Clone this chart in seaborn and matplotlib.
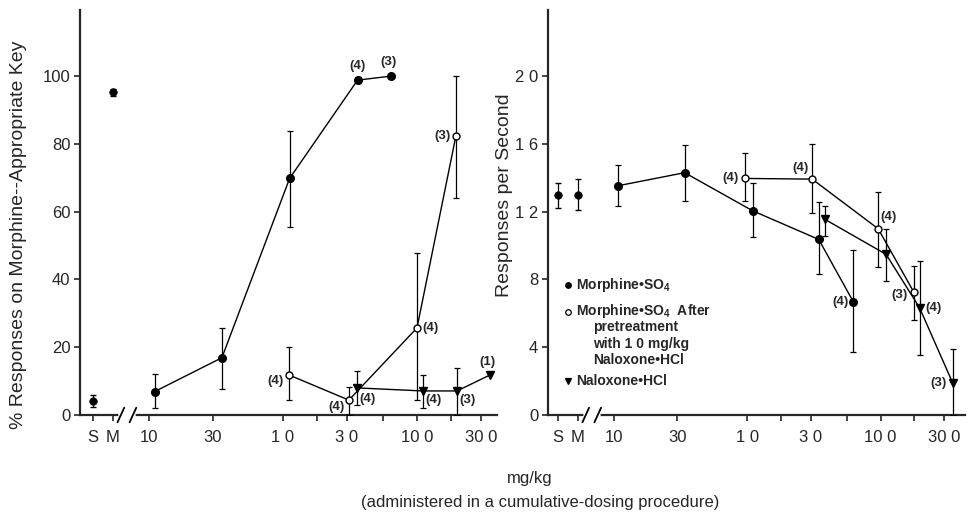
import matplotlib.pyplot as plt
import matplotlib.transforms as mtransforms
import numpy as np
import seaborn as sns

# ---------------------------------------------------------------------------
# Data (doses in mg/kg, cumulative dosing)
# ---------------------------------------------------------------------------

train_labels = ["S", "M"]

# left panel: % responses on morphine-appropriate key
train_pct = [4.2, 95.2]
train_pct_lo = [2.4, 94.2]
train_pct_hi = [6.0, 96.2]

morph_dose_pct = [0.11, 0.35, 1.12, 3.6, 6.4]
morph_pct = [6.9, 16.9, 69.8, 98.8, 100.0]
morph_pct_lo = [2.0, 7.8, 55.5, 98.0, 100.0]
morph_pct_hi = [12.1, 25.7, 83.8, 99.6, 100.0]
morph_n_pct = ["", "", "", "(4)", "(3)"]

pre_dose_pct = [1.11, 3.1, 10.0, 19.5]
pre_pct = [11.8, 4.4, 25.7, 82.3]
pre_pct_lo = [4.4, 0.0, 4.4, 64.0]
pre_pct_hi = [20.0, 8.3, 47.9, 100.0]
pre_n_pct = ["(4)", "(4)", "(4)", "(3)"]

nal_dose_pct = [3.55, 11.0, 19.9, 35.0]
nal_pct = [8.0, 7.1, 7.1, 11.8]
nal_pct_lo = [3.0, 2.0, 0.0, 11.8]
nal_pct_hi = [13.0, 11.8, 13.9, 11.8]
nal_n_pct = ["(4)", "(4)", "(3)", "(1)"]

# right panel: responses per second
train_rate = [1.30, 1.30]
train_rate_lo = [1.22, 1.21]
train_rate_hi = [1.37, 1.39]

morph_dose_rate = [0.108, 0.34, 1.10, 3.44, 6.25]
morph_rate = [1.353, 1.43, 1.205, 1.036, 0.668]
morph_rate_lo = [1.233, 1.264, 1.052, 0.83, 0.373]
morph_rate_hi = [1.477, 1.593, 1.37, 1.258, 0.973]
morph_n_rate = ["", "", "", "", "(4)"]

pre_dose_rate = [0.97, 3.07, 9.6, 17.7]
pre_rate = [1.396, 1.392, 1.099, 0.727]
pre_rate_lo = [1.263, 1.19, 0.875, 0.559]
pre_rate_hi = [1.544, 1.599, 1.317, 0.881]
pre_n_rate = ["(4)", "(4)", "(4)", "(3)"]

nal_dose_rate = [3.84, 11.0, 19.6, 34.7]
nal_rate = [1.154, 0.948, 0.633, 0.19]
nal_rate_lo = [1.056, 0.792, 0.354, 0.0]
nal_rate_hi = [1.233, 1.099, 0.91, 0.389]
nal_n_rate = ["", "", "(4)", "(3)"]

dose_ticks = [0.1, 0.3, 1.0, 3.0, 10.0, 30.0]
dose_ticklabels = ["10", "30", "1 0", "3 0", "10 0", "30 0"]
minor_doses = [1.78, 5.6, 17.8]

pct_ticks = [0, 20, 40, 60, 80, 100]
rate_ticks = [0, 0.4, 0.8, 1.2, 1.6, 2.0]
rate_ticklabels = ["0", "4", "8", "1 2", "1 6", "2 0"]

# ---------------------------------------------------------------------------
# Layout helpers
# ---------------------------------------------------------------------------

W, H = 971, 514
SM_POS = [-1.42, -1.27]          # where S and M sit on the log-dose axis
BREAK = (-1.21, -1.12)
FONT = "Liberation Sans"

sns.set_style("ticks")
plt.rcParams["font.family"] = [FONT, "DejaVu Sans"]
plt.rcParams["mathtext.fontset"] = "custom"
plt.rcParams["mathtext.rm"] = f"{FONT}:bold"
plt.rcParams["mathtext.default"] = "rm"


def rect(x0, y0, x1, y1):
    return [x0 / W, 1 - y1 / H, (x1 - x0) / W, (y1 - y0) / H]


def fxy(x, y):
    return x / W, 1 - y / H


def plot_series(ax, dose, y, lo, hi, marker, face, ms):
    x = np.log10(dose)
    sns.lineplot(
        x=x, y=y, ax=ax, sort=False, estimator=None, color="black",
        lw=1.0, marker=marker, markersize=ms, markerfacecolor=face,
        markeredgecolor="black", markeredgewidth=1.0, zorder=4,
    )
    y, lo, hi = map(np.asarray, (y, lo, hi))
    m = hi > lo
    ax.errorbar(
        x[m], y[m], yerr=[y[m] - lo[m], hi[m] - y[m]], fmt="none",
        ecolor="black", elinewidth=0.9, capsize=2, capthick=0.9, zorder=3,
    )


def label_points(ax, dose, y, labels, offsets):
    for d, v, lab, off in zip(dose, y, labels, offsets):
        if not lab:
            continue
        dx, dy, ha = off
        ax.annotate(
            lab, (np.log10(d), v), xytext=(dx * 0.72, dy * 0.72),
            textcoords="offset points", ha=ha, va="center",
            fontsize=9.5, fontweight="bold", zorder=6,
        )


def style_axis(ax, xlim, ylim):
    sns.despine(ax=ax)
    ax.set_xlim(*xlim)
    ax.set_ylim(*ylim)
    ax.set_xticks(SM_POS + list(np.log10(dose_ticks)))
    ax.set_xticklabels(train_labels + dose_ticklabels)
    ax.set_xticks(np.log10(minor_doses), minor=True)
    for s in ("left", "bottom"):
        ax.spines[s].set_linewidth(1.6)
    ax.tick_params(axis="x", which="both", direction="out", length=4,
                   width=1.2, pad=7, labelsize=12)
    ax.tick_params(axis="y", direction="out", length=4, width=1.2,
                   pad=3, labelsize=12)
    ax.set_xlabel("")
    ax.set_ylabel("")
    # axis break on the dose axis
    trans = mtransforms.blended_transform_factory(ax.transData, ax.transAxes)
    ax.plot(BREAK, [0, 0], transform=trans, color="white", lw=4,
            clip_on=False, zorder=5)
    for bx in BREAK:
        ax.plot([bx - 0.025, bx + 0.025], [-0.018, 0.018], transform=trans,
                color="black", lw=1.3, clip_on=False, zorder=6)


fig = plt.figure(figsize=(W / 100, H / 100), dpi=100)
ax_l = fig.add_axes(rect(80, 10, 497, 415))
ax_r = fig.add_axes(rect(548, 10, 965, 415))

# ---------------------------------------------------------------------------
# Left panel
# ---------------------------------------------------------------------------

plot_series(ax_l, morph_dose_pct, morph_pct, morph_pct_lo, morph_pct_hi, "o", "black", 5.5)
plot_series(ax_l, pre_dose_pct, pre_pct, pre_pct_lo, pre_pct_hi, "o", "white", 5)
plot_series(ax_l, nal_dose_pct, nal_pct, nal_pct_lo, nal_pct_hi, "v", "black", 5.5)

sns.scatterplot(x=SM_POS, y=train_pct, ax=ax_l, color="black", s=30,
                edgecolor="black", zorder=4)
tp = np.asarray(train_pct)
ax_l.errorbar(SM_POS, tp, yerr=[tp - train_pct_lo, np.asarray(train_pct_hi) - tp],
              fmt="none", ecolor="black", elinewidth=0.9, capsize=2, zorder=3)

label_points(ax_l, morph_dose_pct, morph_pct, morph_n_pct,
             [None, None, None, (0, 14, "center"), (-3, 14, "center")])
label_points(ax_l, pre_dose_pct, pre_pct, pre_n_pct,
             [(-5, -6, "right"), (-4, -7, "right"), (5, 0, "left"), (-5, 0, "right")])
label_points(ax_l, nal_dose_pct, nal_pct, nal_n_pct,
             [(3, -11, "left"), (3, -9, "left"), (2, -9, "left"), (-2, 13, "center")])

style_axis(ax_l, (-1.515, 1.597), (0, 119.5))
ax_l.set_yticks(pct_ticks)

# ---------------------------------------------------------------------------
# Right panel
# ---------------------------------------------------------------------------

plot_series(ax_r, morph_dose_rate, morph_rate, morph_rate_lo, morph_rate_hi, "o", "black", 5.5)
plot_series(ax_r, pre_dose_rate, pre_rate, pre_rate_lo, pre_rate_hi, "o", "white", 5)
plot_series(ax_r, nal_dose_rate, nal_rate, nal_rate_lo, nal_rate_hi, "v", "black", 5.5)

sns.scatterplot(x=SM_POS, y=train_rate, ax=ax_r, color="black", s=30,
                edgecolor="black", zorder=4)
tr = np.asarray(train_rate)
ax_r.errorbar(SM_POS, tr, yerr=[tr - train_rate_lo, np.asarray(train_rate_hi) - tr],
              fmt="none", ecolor="black", elinewidth=0.9, capsize=2, zorder=3)

label_points(ax_r, morph_dose_rate, morph_rate, morph_n_rate,
             [None, None, None, None, (-5, 0, "right")])
label_points(ax_r, pre_dose_rate, pre_rate, pre_n_rate,
             [(-7, 0, "right"), (-4, 11, "right"), (2, 12, "left"), (-6, -3, "right")])
label_points(ax_r, nal_dose_rate, nal_rate, nal_n_rate,
             [None, None, (6, 0, "left"), (-6, 0, "right")])

style_axis(ax_r, (-1.493, 1.633), (0, 2.39))
ax_r.set_yticks(rate_ticks)
ax_r.set_yticklabels(rate_ticklabels)

# legend, drawn by hand so the long entry can be indented
legend_rows = [
    ("o", "black", 285, "Morphine•SO$_4$"),
    ("o", "white", 311.5, "Morphine•SO$_4$  After"),
    ("v", "black", 381, "Naloxone•HCl"),
]
for mk, face, py, txt in legend_rows:
    mx, my = fxy(568, py)
    fig.add_artist(plt.Line2D([mx], [my], marker=mk, markersize=4 if mk == "o" else 4.5,
                              markerfacecolor=face, markeredgecolor="black",
                              markeredgewidth=0.9, transform=fig.transFigure))
    fig.text(*fxy(576, py), txt, fontsize=10, fontweight="bold", va="center")
for py, txt in [(327.5, "pretreatment"), (344, "with 1 0 mg/kg"), (360, "Naloxone•HCl")]:
    fig.text(*fxy(593, py), txt, fontsize=10, fontweight="bold", va="center")

# ---------------------------------------------------------------------------
# Axis titles
# ---------------------------------------------------------------------------

fig.text(*fxy(19, 235), "% Responses on Morphine--Appropriate Key", rotation=90,
         ha="center", va="center", fontsize=14)
fig.text(*fxy(504, 195), "Responses per Second", rotation=90,
         ha="center", va="center", fontsize=14)
fig.text(*fxy(530, 479), "mg/kg", ha="center", va="center", fontsize=12)
fig.text(*fxy(540, 503), "(administered in a cumulative-dosing procedure)",
         ha="center", va="center", fontsize=12)

fig.savefig("out.png", dpi=100, facecolor="white")
